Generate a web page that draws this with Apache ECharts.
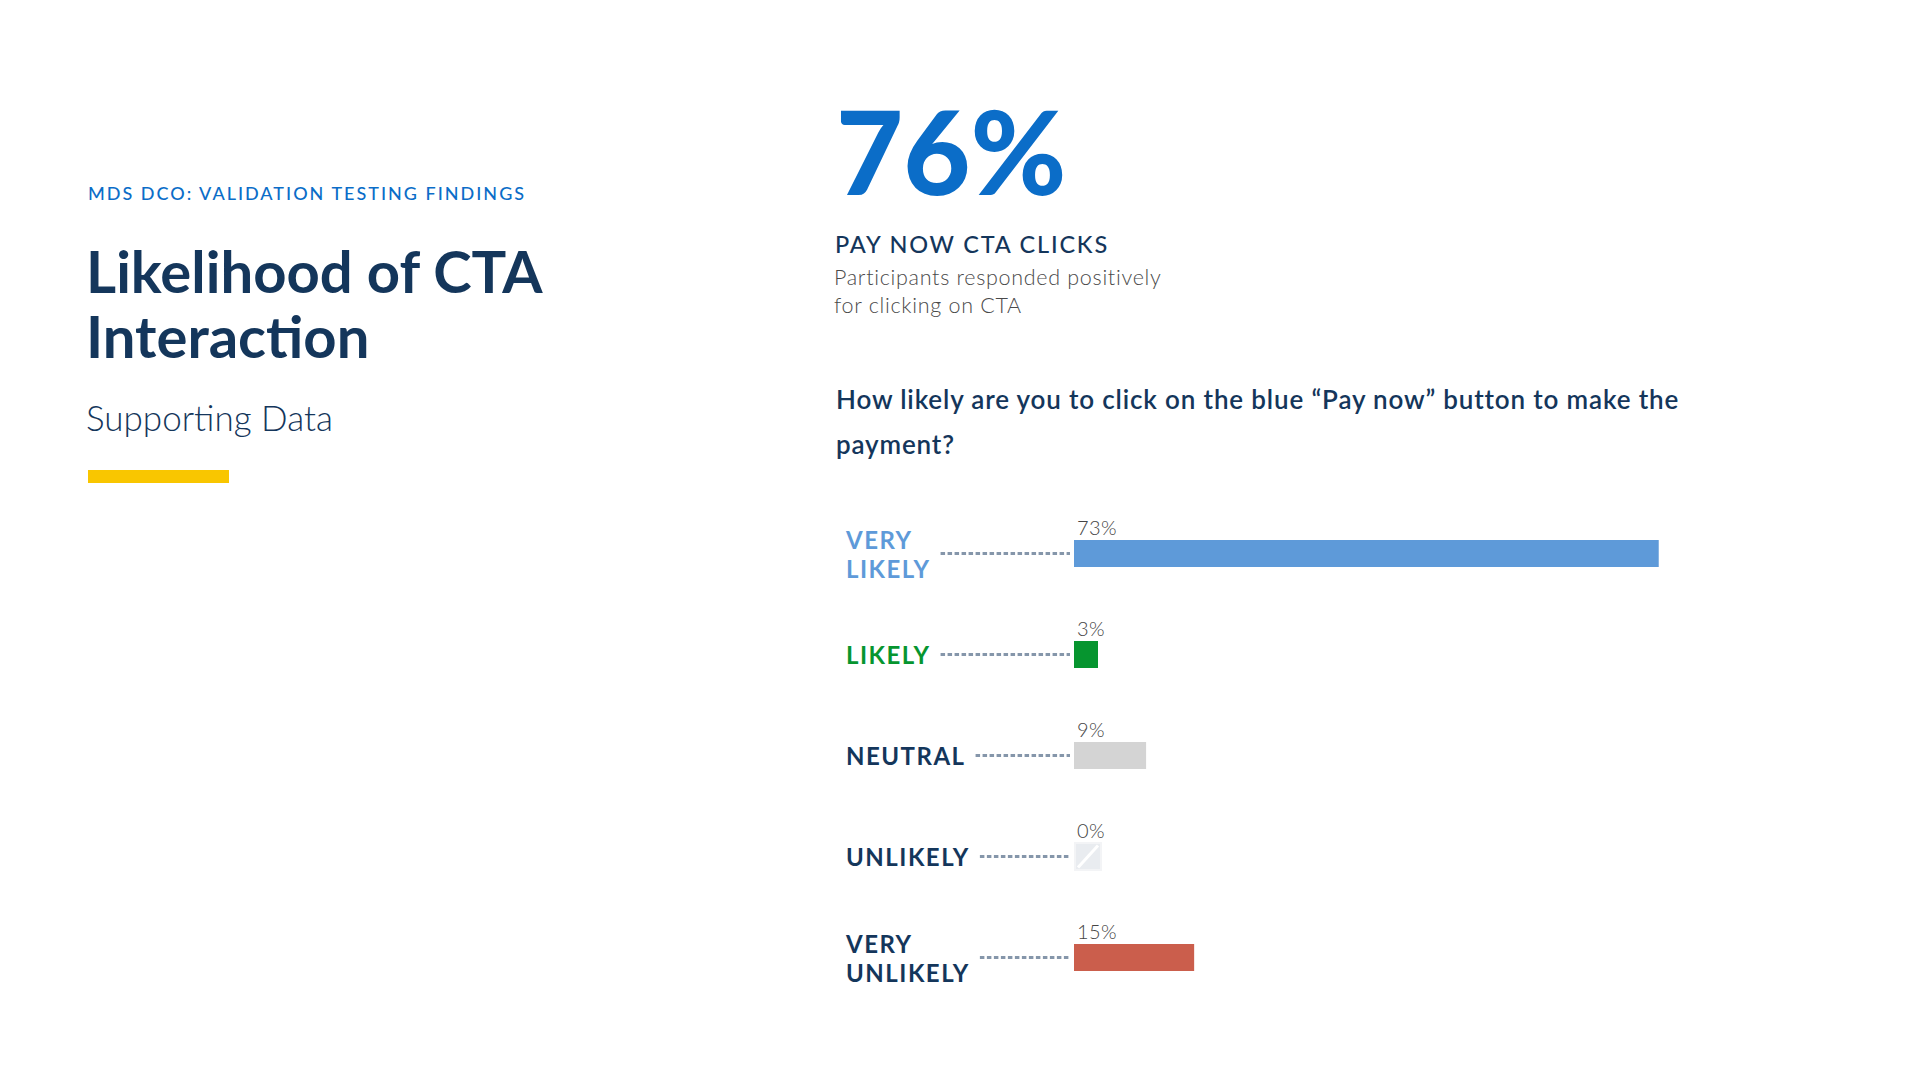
<!DOCTYPE html>
<html>
<head>
<meta charset="utf-8">
<script src="https://cdn.jsdelivr.net/npm/echarts@6/dist/echarts.min.js"></script>
<style>
  html, body { margin: 0; padding: 0; background: #fff; }
  #chart { width: 1920px; height: 1080px; }
  /* tracking for the spaced-out text, picked by font size */
  #chart svg text[style*="18px"] { letter-spacing: 2px; }
  #chart svg text[style*="23.5px"] { letter-spacing: 1.8px; }
  #chart svg text[style*="21.5px"] { letter-spacing: 0.7px; }
  #chart svg text[style*="26px"] { letter-spacing: 0.85px; }
  #chart svg text[style*="24px"] { letter-spacing: 1.5px; }
  #chart svg text[style*="20px"] { letter-spacing: 0.4px; }
</style>
</head>
<body>
<div id="chart"></div>
<script>
// chart data
var categories = ['VERY\nLIKELY', 'LIKELY', 'NEUTRAL', 'UNLIKELY', 'VERY\nUNLIKELY'];
var values = [73, 3, 9, 0, 15];
var barColors = ['#5e9ad9', '#06952f', '#d4d4d4', '#e9ecf0', '#cb5e4c'];
var labelColors = ['#5e9ad9', '#06952f', '#14365b', '#14365b', '#14365b'];
var headlineValue = '76%';

var NAVY = '#14365b';
var BLUE = '#0b6dc8';
var FONT = 'Lato, "Open Sans", sans-serif';
var catFont = 'bold 24px ' + FONT;
var catSpacing = 1.5;
var gridLeft = 1074;
var labelLeft = 846;

// width of the label text, so the dotted leader starts right after it
var measureCtx = document.createElement('canvas').getContext('2d');
measureCtx.font = catFont;
var leaderStart = categories.map(function (c) {
  var w = Math.max.apply(null, c.split('\n').map(function (s) {
    return measureCtx.measureText(s).width + s.length * catSpacing;
  }));
  return labelLeft + w + 10;
});

var chart = echarts.init(document.getElementById('chart'), null, { renderer: 'svg' });

var option = {
  backgroundColor: '#ffffff',
  animation: false,
  grid: { left: gridLeft, top: 503, width: 801, height: 505 },
  xAxis: {
    type: 'value',
    min: 0,
    max: 100,
    show: false
  },
  yAxis: {
    type: 'category',
    inverse: true,
    data: categories,
    axisLine: { show: false },
    axisTick: { show: false },
    splitLine: { show: false },
    axisLabel: {
      align: 'left',
      margin: gridLeft - labelLeft,
      fontFamily: FONT,
      fontSize: 24,
      fontWeight: 'bold',
      lineHeight: 29,
      color: function (value, index) {
        return labelColors[index];
      }
    }
  },
  series: [
    {
      type: 'bar',
      barWidth: 27,
      silent: true,
      data: values.map(function (v, i) {
        return { value: v, itemStyle: { color: barColors[i] } };
      }),
      label: {
        show: true,
        position: [3, -3],
        verticalAlign: 'bottom',
        align: 'left',
        formatter: '{c}%',
        fontFamily: FONT,
        fontSize: 20,
        fontWeight: 300,
        color: '#454545'
      }
    },
    {
      // dotted leaders and the empty-value placeholder box
      type: 'custom',
      silent: true,
      data: values.map(function (v, i) { return [v, i]; }),
      encode: { x: 0, y: 1 },
      renderItem: function (params, api) {
        var v = api.value(0);
        var i = api.value(1);
        var p = api.coord([0, i]);
        var children = [{
          type: 'line',
          shape: { x1: leaderStart[i], y1: p[1], x2: p[0] - 4, y2: p[1] },
          style: { stroke: '#8596aa', lineWidth: 3, lineDash: [4.5, 2.5] }
        }];
        if (v === 0) {
          children.push({
            type: 'rect',
            shape: { x: p[0] + 1, y: p[1] - 13.5, width: 26, height: 27 },
            style: { fill: barColors[i], stroke: '#f3f4f6', lineWidth: 2 }
          });
          children.push({
            type: 'line',
            shape: { x1: p[0] + 4, y1: p[1] + 11, x2: p[0] + 24, y2: p[1] - 11 },
            style: { stroke: '#ffffff', lineWidth: 3 }
          });
        }
        return { type: 'group', children: children };
      }
    }
  ],
  graphic: [
    {
      type: 'text', x: 88, y: 193,
      style: { text: 'MDS DCO: VALIDATION TESTING FINDINGS', font: '500 18px ' + FONT, fill: BLUE, verticalAlign: 'middle' }
    },
    {
      type: 'text', x: 86, y: 303,
      style: { text: 'Likelihood of CTA\nInteraction', font: 'bold 58px ' + FONT, lineHeight: 65, fill: NAVY, verticalAlign: 'middle' }
    },
    {
      type: 'text', x: 86, y: 417,
      style: { text: 'Supporting Data', font: '300 35px ' + FONT, fill: NAVY, verticalAlign: 'middle' }
    },
    {
      type: 'rect',
      shape: { x: 88, y: 470, width: 141, height: 13 },
      style: { fill: '#f9c600' }
    },
    {
      type: 'text', x: 836, y: 150,
      style: { text: headlineValue, font: '900 116px ' + FONT, fill: BLUE, verticalAlign: 'middle' }
    },
    {
      type: 'text', x: 835, y: 243.5,
      style: { text: 'PAY NOW CTA CLICKS', font: '500 23.5px ' + FONT, fill: NAVY, verticalAlign: 'middle' }
    },
    {
      type: 'text', x: 834, y: 290.5,
      style: { text: 'Participants responded positively\nfor clicking on CTA', font: '300 21.5px ' + FONT, lineHeight: 28, fill: '#4a4a4a', verticalAlign: 'middle' }
    },
    {
      type: 'text', x: 836, y: 421.5,
      style: { text: 'How likely are you to click on the blue \u201cPay now\u201d button to make the\npayment?', font: '600 26px ' + FONT, lineHeight: 45, fill: NAVY, verticalAlign: 'middle' }
    }
  ]
};

chart.setOption(option);
</script>
</body>
</html>
